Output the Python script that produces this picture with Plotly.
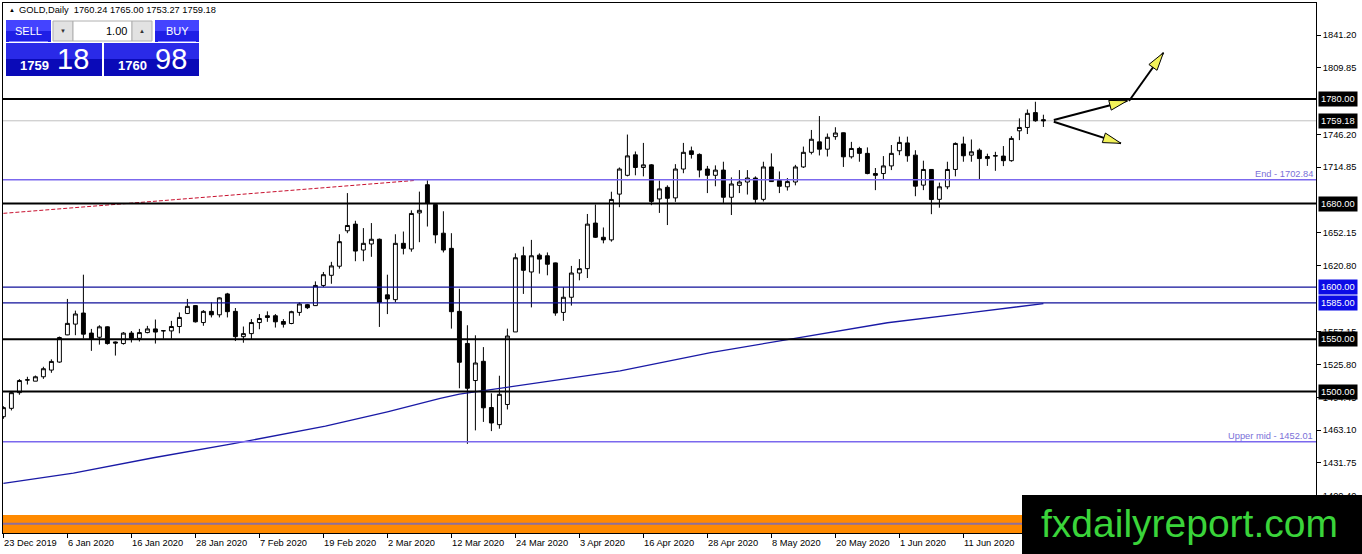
import math
import pandas as pd
import plotly.graph_objects as go

# ---------------- data ----------------
HOLIDAYS = ["2019-12-25", "2020-01-01", "2020-04-10"]
dates = [d for d in pd.bdate_range("2019-12-23", "2020-06-25")
         if d.strftime("%Y-%m-%d") not in HOLIDAYS]

opens = [1476.0, 1484.0, 1499.0, 1511.0, 1510.0, 1514.2, 1520.6, 1528.3, 1554.3, 1564.6,
         1575.2, 1556.0, 1552.0, 1562.0, 1547.5, 1546.0, 1556.0, 1551.0, 1556.5, 1560.0,
         1558.1, 1558.1, 1562.3, 1574.8, 1582.3, 1566.1, 1576.8, 1573.5, 1593.5, 1576.8,
         1552.6, 1555.5, 1566.1, 1572.6, 1572.6, 1567.1, 1565.2, 1575.8, 1583.2, 1582.3,
         1601.6, 1611.3, 1620.0, 1653.9, 1660.3, 1635.5, 1641.3, 1645.8, 1592.6, 1588.0,
         1641.9, 1636.5, 1671.0, 1698.0, 1679.0, 1651.6, 1637.1, 1576.8, 1546.1, 1510.6,
         1529.0, 1484.8, 1468.4, 1487.7, 1557.1, 1630.0, 1614.5, 1630.6, 1630.0, 1623.2,
         1575.8, 1590.3, 1613.5, 1617.7, 1661.3, 1647.7, 1645.2, 1689.0, 1707.0, 1726.6,
         1714.5, 1717.0, 1684.4, 1695.5, 1685.4, 1713.0, 1730.4, 1727.0, 1713.0, 1707.0,
         1712.0, 1686.0, 1697.4, 1700.6, 1704.4, 1684.0, 1715.0, 1702.0, 1696.0, 1700.6,
         1715.0, 1729.0, 1739.0, 1732.0, 1744.0, 1747.7, 1724.7, 1732.7, 1728.0, 1708.7,
         1708.7, 1716.0, 1730.5, 1738.0, 1726.3, 1697.6, 1712.6, 1684.0, 1696.0, 1712.6,
         1737.0, 1726.3, 1731.0, 1723.0, 1725.4, 1725.4, 1721.0, 1749.6, 1752.8, 1767.0,
         1760.24]
highs = [1486.0, 1500.0, 1512.0, 1514.2, 1515.4, 1523.8, 1530.9, 1552.7, 1588.7, 1577.5,
         1611.9, 1560.0, 1563.5, 1562.5, 1548.0, 1557.0, 1558.0, 1560.0, 1562.9, 1569.0,
         1558.7, 1567.7, 1575.8, 1588.7, 1582.9, 1578.0, 1585.5, 1590.3, 1594.5, 1580.0,
         1562.3, 1569.4, 1574.2, 1576.8, 1574.2, 1569.4, 1577.4, 1585.5, 1583.9, 1605.5,
         1614.5, 1624.2, 1650.6, 1690.0, 1663.5, 1656.5, 1661.3, 1646.5, 1611.9, 1650.6,
         1653.2, 1673.5, 1691.4, 1702.2, 1680.0, 1672.6, 1651.6, 1598.4, 1563.5, 1553.9,
         1542.6, 1498.4, 1515.2, 1560.3, 1632.3, 1638.7, 1645.2, 1632.3, 1633.2, 1623.5,
         1600.0, 1620.3, 1626.8, 1670.0, 1679.0, 1657.1, 1691.3, 1714.5, 1746.0, 1729.8,
         1738.0, 1717.7, 1702.0, 1697.4, 1717.7, 1738.0, 1734.5, 1728.0, 1716.0, 1716.5,
         1720.0, 1705.0, 1712.0, 1712.0, 1706.0, 1720.0, 1728.0, 1710.7, 1704.4, 1717.0,
         1734.5, 1750.4, 1763.7, 1747.0, 1753.0, 1748.0, 1739.0, 1734.3, 1733.7, 1714.0,
         1725.4, 1736.0, 1744.0, 1744.0, 1731.0, 1721.0, 1713.0, 1700.0, 1720.0, 1738.5,
         1744.0, 1741.3, 1732.7, 1727.7, 1729.5, 1735.0, 1744.5, 1761.5, 1770.0, 1777.4,
         1765.00]
lows = [1474.0, 1482.0, 1497.0, 1506.8, 1510.0, 1512.2, 1518.0, 1527.6, 1554.0, 1554.0,
        1550.8, 1539.0, 1545.0, 1545.0, 1534.5, 1545.0, 1547.0, 1548.0, 1555.8, 1546.0,
        1550.6, 1550.6, 1555.8, 1574.2, 1566.1, 1563.0, 1571.0, 1571.0, 1571.0, 1548.4,
        1546.8, 1550.0, 1559.7, 1566.8, 1561.3, 1561.3, 1564.5, 1572.6, 1579.0, 1582.0,
        1600.0, 1603.2, 1617.7, 1651.6, 1624.8, 1624.8, 1629.0, 1561.9, 1574.2, 1585.5,
        1631.3, 1633.9, 1643.0, 1658.0, 1641.9, 1633.2, 1560.3, 1503.2, 1450.0, 1462.9,
        1471.0, 1462.2, 1464.5, 1482.9, 1557.1, 1593.5, 1580.6, 1612.9, 1611.3, 1572.6,
        1567.7, 1582.3, 1606.5, 1608.7, 1647.0, 1641.9, 1643.5, 1676.5, 1706.0, 1707.0,
        1706.0, 1678.4, 1671.0, 1659.4, 1681.6, 1709.0, 1723.0, 1705.0, 1690.0, 1696.5,
        1680.6, 1669.0, 1690.0, 1688.6, 1680.6, 1682.0, 1700.6, 1690.0, 1692.4, 1697.4,
        1714.0, 1727.0, 1726.0, 1725.0, 1741.0, 1715.0, 1723.0, 1720.0, 1708.0, 1692.8,
        1703.0, 1712.0, 1726.3, 1720.0, 1687.0, 1692.8, 1669.8, 1676.0, 1693.7, 1706.0,
        1720.0, 1720.0, 1703.0, 1716.0, 1711.3, 1715.8, 1720.0, 1740.7, 1746.5, 1758.3,
        1753.27]
closes = [1484.7, 1499.0, 1510.6, 1511.3, 1514.2, 1521.9, 1528.9, 1551.8, 1565.3, 1574.3,
          1555.0, 1550.5, 1562.0, 1546.0, 1546.5, 1556.0, 1551.0, 1556.5, 1560.0, 1557.0,
          1558.3, 1562.3, 1571.0, 1581.6, 1566.8, 1576.8, 1573.5, 1589.7, 1576.5, 1552.6,
          1555.5, 1566.1, 1570.0, 1571.0, 1566.8, 1564.5, 1576.5, 1583.9, 1580.3, 1601.6,
          1611.9, 1620.3, 1643.5, 1659.0, 1634.5, 1641.9, 1645.8, 1585.5, 1588.7, 1641.9,
          1637.1, 1670.5, 1673.5, 1680.0, 1650.0, 1635.5, 1576.5, 1528.1, 1503.2, 1527.4,
          1484.5, 1470.0, 1497.4, 1553.2, 1628.1, 1616.1, 1630.0, 1626.8, 1621.9, 1575.2,
          1590.3, 1613.5, 1617.7, 1660.3, 1647.7, 1645.2, 1683.9, 1713.0, 1725.6, 1714.5,
          1717.0, 1682.0, 1694.0, 1685.0, 1713.0, 1729.0, 1727.0, 1712.0, 1707.0, 1712.0,
          1686.0, 1698.7, 1700.6, 1704.4, 1684.0, 1715.0, 1701.0, 1696.5, 1701.0, 1715.0,
          1729.0, 1741.5, 1732.0, 1743.4, 1747.5, 1724.7, 1732.7, 1728.0, 1708.7, 1707.0,
          1716.0, 1728.0, 1738.5, 1725.7, 1696.6, 1712.6, 1683.8, 1696.0, 1712.6, 1737.5,
          1725.7, 1729.5, 1723.0, 1725.0, 1725.8, 1721.0, 1742.3, 1752.8, 1766.3, 1759.2,
          1759.18]

# moving average, read at a number of bars
ma_idx = [0, 8.75, 18.75, 28.75, 40.25, 48, 54.6, 57, 77.1, 88.4, 98.75, 110.5, 120.9, 130]
ma_val = [1412.2, 1421.9, 1436.7, 1450.2, 1466.9, 1480.7, 1493.6, 1497.5, 1519.8, 1537.3,
          1550.7, 1565.9, 1575.5, 1584.3]

# red dashed trend line
trend_idx = [0, 51.3]
trend_val = [1670.6, 1702.0]

# arrows: (bar, price) tail -> tip
arrows = [((131.3, 1759.9), (140.5, 1778.4)),
          ((140.7, 1778.1), (145.0, 1824.3)),
          ((131.3, 1758.3), (139.7, 1737.6))]

black_levels = [1780.0, 1680.0, 1550.0, 1500.0]
blue_levels = [1600.0, 1585.0]
fibo_levels = [1702.84, 1452.01]
fibo_names = ["End", "Upper mid"]
bid = 1759.18
orange_band = [1364.7, 1381.9]
orange_mid = 1373.5

tick_dates = ["2019-12-23", "2020-01-06", "2020-01-16", "2020-01-28", "2020-02-07",
              "2020-02-19", "2020-03-02", "2020-03-12", "2020-03-24", "2020-04-03",
              "2020-04-16", "2020-04-28", "2020-05-08", "2020-05-20", "2020-06-01",
              "2020-06-11"]
y_ticks = [1841.20, 1809.85, 1746.20, 1714.85, 1652.15, 1620.80,
           1557.15, 1525.80, 1494.45, 1463.10, 1431.75, 1400.40]

header = "GOLD,Daily  1760.24 1765.00 1753.27 1759.18"
sell_big, sell_small = "18", "1759"
buy_big, buy_small = "98", "1760"
lot = "1.00"

# ---------------- geometry ----------------
W, H = 1362, 554
L, T, R, B = 3, 3, 1316, 533
X0 = -0.05
X1 = X0 + (R - L) / 8.0
Y0, Y1 = 1364.7, 1871.9
PPB = (R - L) / (X1 - X0)      # px per bar
PPU = (B - T) / (Y1 - Y0)      # px per price unit
FONT = "Liberation Sans, Arial, sans-serif"


def fx(px):
    return (px - L) / (R - L)


def fy(py):
    return (B - py) / (B - T)


def head(tail, tip, length=18, half=5):
    dx = (tip[0] - tail[0]) * PPB
    dy = (tip[1] - tail[1]) * PPU
    n = math.hypot(dx, dy)
    ux, uy = dx / n, dy / n
    bx, by = -length * ux, -length * uy
    p1 = (bx - half * uy, by + half * ux)
    p2 = (bx + half * uy, by - half * ux)
    xs = [tip[0], tip[0] + p1[0] / PPB, tip[0] + p2[0] / PPB, tip[0]]
    ys = [tip[1], tip[1] + p1[1] / PPU, tip[1] + p2[1] / PPU, tip[1]]
    return xs, ys


idx = list(range(len(dates)))

fig = go.Figure()

fig.add_trace(go.Candlestick(
    x=idx, open=opens, high=highs, low=lows, close=closes,
    increasing=dict(line=dict(color="black", width=1), fillcolor="white"),
    decreasing=dict(line=dict(color="black", width=1), fillcolor="black"),
    whiskerwidth=0, showlegend=False, hoverinfo="skip"))

fig.add_trace(go.Scatter(x=ma_idx, y=ma_val, mode="lines",
                         line=dict(color="#1a1aa6", width=1.3), showlegend=False, hoverinfo="skip"))

fig.add_trace(go.Scatter(x=trend_idx, y=trend_val, mode="lines",
                         line=dict(color="#c8102e", width=1, dash="4px,2px"),
                         showlegend=False, hoverinfo="skip"))

for tail, tip in arrows:
    fig.add_trace(go.Scatter(x=[tail[0], tip[0]], y=[tail[1], tip[1]], mode="lines",
                             line=dict(color="black", width=2), showlegend=False, hoverinfo="skip"))
    hx, hy = head(tail, tip)
    fig.add_trace(go.Scatter(x=hx, y=hy, mode="lines", fill="toself", fillcolor="#f2f25a",
                             line=dict(color="black", width=1), showlegend=False, hoverinfo="skip"))

shapes = []
# orange band at the bottom
shapes.append(dict(type="rect", xref="paper", yref="y", x0=0, x1=1, y0=orange_band[0], y1=orange_band[1],
                   fillcolor="#ff8a00", line=dict(width=0), layer="below"))
shapes.append(dict(type="line", xref="paper", yref="y", x0=0, x1=1, y0=orange_mid, y1=orange_mid,
                   line=dict(color="#8c6f9e", width=2), layer="below"))
shapes.append(dict(type="line", xref="paper", yref="y", x0=0, x1=1, y0=bid, y1=bid,
                   line=dict(color="#c0c0c0", width=1), layer="below"))
for lv in fibo_levels:
    shapes.append(dict(type="line", xref="paper", yref="y", x0=0, x1=1, y0=lv, y1=lv,
                       line=dict(color="#7b68ee", width=1.5), layer="above"))
for lv in blue_levels:
    shapes.append(dict(type="line", xref="paper", yref="y", x0=0, x1=1, y0=lv, y1=lv,
                       line=dict(color="#10109a", width=1.2), layer="above"))
for lv in black_levels:
    shapes.append(dict(type="line", xref="paper", yref="y", x0=0, x1=1, y0=lv, y1=lv,
                       line=dict(color="black", width=2), layer="above"))

# one-click trading panel
panel = [
    (6, 20, 51, 31, "#4444ff"), (6, 31, 51, 42, "#1f1fe6"),
    (155, 20, 199, 31, "#4444ff"), (155, 31, 199, 42, "#1f1fe6"),
    (6, 43, 102, 59, "#2a2ae8"), (6, 59, 102, 76, "#0a0ab8"),
    (104, 43, 199, 59, "#2a2ae8"), (104, 59, 199, 76, "#0a0ab8"),
]
for x0, y0, x1, y1, c in panel:
    shapes.append(dict(type="rect", xref="paper", yref="paper", x0=fx(x0), x1=fx(x1),
                       y0=fy(y1), y1=fy(y0), fillcolor=c, line=dict(width=0), layer="above"))
for x0, x1, c in [(53, 73, "#e2e2e2"), (73, 132, "white"), (132, 152, "#e2e2e2")]:
    shapes.append(dict(type="rect", xref="paper", yref="paper", x0=fx(x0), x1=fx(x1),
                       y0=fy(41), y1=fy(21), fillcolor=c, line=dict(color="#b0b0b0", width=1),
                       layer="above"))
for x0, x1 in [(9, 48), (158, 196)]:
    shapes.append(dict(type="line", xref="paper", yref="paper", x0=fx(x0), x1=fx(x1),
                       y0=fy(41.5), y1=fy(41.5), line=dict(color="#8080ff", width=1), layer="above"))
# logo box
shapes.append(dict(type="rect", xref="paper", yref="paper", x0=fx(1022), x1=fx(1362),
                   y0=fy(554), y1=fy(495), fillcolor="black", line=dict(width=0), layer="above"))

ann = []
for d in tick_dates:
    i = [k for k, v in enumerate(dates) if v.strftime("%Y-%m-%d") == d][0]
    dt = pd.Timestamp(d)
    ann.append(dict(x=i, xref="x", y=fy(542.5), yref="paper", xanchor="left", yanchor="middle",
                    xshift=-1, text=f"{dt.day} {dt.strftime('%b %Y')}", showarrow=False,
                    font=dict(size=9.3, color="black", family=FONT)))

boxes = [(1780.0, "black"), (bid, "black"), (1680.0, "black"), (1600.0, "#0c0ce6"),
         (1585.0, "#0c0ce6"), (1550.0, "black"), (1500.0, "black")]
for v, c in boxes:
    ann.append(dict(x=1, xref="paper", y=v, yref="y", xanchor="left", yanchor="middle",
                    xshift=2, text=f"{v:.2f}", showarrow=False, bgcolor=c, borderpad=2,
                    font=dict(size=9.3, color="white", family=FONT)))

for v, name in zip(fibo_levels, fibo_names):
    ann.append(dict(x=1, xref="paper", y=v, yref="y", xanchor="right", yanchor="bottom",
                    xshift=-1, yshift=-1, text=f"{name} - {v:.2f}", showarrow=False,
                    font=dict(size=9.3, color="#7a70d8", family=FONT)))

ann.append(dict(x=fx(7), xref="paper", y=fy(10), yref="paper", xanchor="left", yanchor="middle",
                text="▲", showarrow=False, font=dict(size=6, color="black", family=FONT)))
ann.append(dict(x=fx(17), xref="paper", y=fy(10), yref="paper", xanchor="left", yanchor="middle",
                text=header, showarrow=False, font=dict(size=9.3, color="black", family=FONT)))


def txt(px, py, s, size, color, anchor="center", bold=False):
    ann.append(dict(x=fx(px), xref="paper", y=fy(py), yref="paper", xanchor=anchor, yanchor="middle",
                    text=f"<b>{s}</b>" if bold else s, showarrow=False,
                    font=dict(size=size, color=color, family=FONT)))


txt(28.5, 30.5, "SELL", 11, "white")
txt(177, 30.5, "BUY", 11, "white")
txt(63, 31, "▼", 6, "#333333")
txt(142, 31, "▲", 6, "#333333")
txt(129, 30.5, lot, 11, "black", anchor="right")
txt(51, 65.5, sell_small, 13, "white", anchor="right", bold=True)
txt(55, 59, sell_big, 29, "white", anchor="left")
txt(149, 65.5, buy_small, 13, "white", anchor="right", bold=True)
txt(153, 59, buy_big, 29, "white", anchor="left")

ann.append(dict(x=fx(1189), xref="paper", y=fy(523), yref="paper", xanchor="center", yanchor="middle",
                text="fxdailyreport.com", showarrow=False,
                font=dict(size=39, color="#3ad43a", family=FONT)))

tick_idx = [[k for k, v in enumerate(dates) if v.strftime("%Y-%m-%d") == d][0] for d in tick_dates]

fig.update_layout(
    width=W, height=H,
    margin=dict(l=L, r=W - R, t=T, b=H - B),
    paper_bgcolor="white", plot_bgcolor="white",
    showlegend=False, hovermode=False,
    shapes=shapes, annotations=ann,
    xaxis=dict(range=[X0, X1], rangeslider=dict(visible=False), showgrid=False, zeroline=False,
               tickvals=tick_idx, ticks="outside", ticklen=4, tickcolor="black",
               showticklabels=False, showline=True, linecolor="black", linewidth=1, mirror=True),
    yaxis=dict(range=[Y0, Y1], side="right", showgrid=False, zeroline=False,
               tickvals=y_ticks, ticktext=[f"{v:.2f}" for v in y_ticks],
               ticks="outside", ticklen=4, tickcolor="black",
               tickfont=dict(size=9.3, color="black", family=FONT),
               showline=True, linecolor="black", linewidth=1, mirror=True),
)

fig.write_html("out.html", config={"displayModeBar": False},
               post_script="document.body.style.margin='0px';document.body.style.overflow='hidden';")
